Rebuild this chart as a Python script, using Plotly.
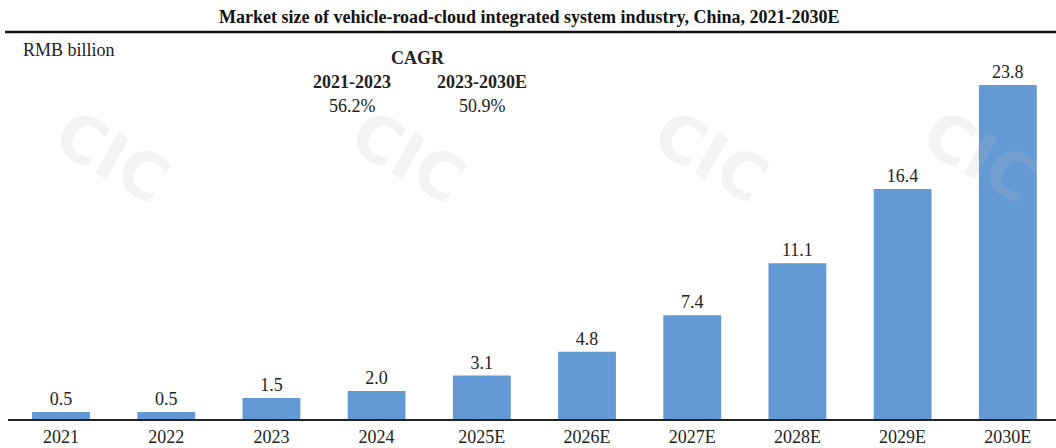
import plotly.graph_objects as go

categories = ["2021", "2022", "2023", "2024", "2025E", "2026E", "2027E", "2028E", "2029E", "2030E"]
values = [0.5, 0.5, 1.5, 2.0, 3.1, 4.8, 7.4, 11.1, 16.4, 23.8]
value_labels = ["0.5", "0.5", "1.5", "2.0", "3.1", "4.8", "7.4", "11.1", "16.4", "23.8"]
cagr_periods = ["2021-2023", "2023-2030E"]
cagr_values = ["56.2%", "50.9%"]

title_text = "Market size of vehicle-road-cloud integrated system industry, China, 2021-2030E"
unit_text = "RMB billion"

W, H = 1056, 448
ml, mr, mt, mb = 8, 0, 40, 29
pw = W - ml - mr
ph = H - mt - mb

def px_to_paper_x(px):
    return (px - ml) / pw

def px_to_paper_y(py):
    return (H - mb - py) / ph

serif = "Liberation Serif, Times New Roman, serif"
bar_color = "#6399d5"
fs = 18

fig = go.Figure()
fig.add_trace(go.Bar(
    x=list(range(len(categories))),
    y=values,
    text=value_labels,
    textposition="outside",
    cliponaxis=False,
    textfont=dict(family=serif, size=fs, color="#222222"),
    marker=dict(color=bar_color, line=dict(width=0)),
    width=0.55,
    hoverinfo="skip",
))

annotations = []
annotations.append(dict(text="<b>" + title_text + "</b>", x=px_to_paper_x(529), y=px_to_paper_y(17),
                        xref="paper", yref="paper", showarrow=False,
                        font=dict(family=serif, size=fs, color="#111111"),
                        xanchor="center", yanchor="middle"))
annotations.append(dict(text=unit_text, x=px_to_paper_x(21), y=px_to_paper_y(50),
                        xref="paper", yref="paper", showarrow=False,
                        font=dict(family=serif, size=fs, color="#222222"),
                        xanchor="left", yanchor="middle"))
annotations.append(dict(text="<b>CAGR</b>", x=px_to_paper_x(418), y=px_to_paper_y(58),
                        xref="paper", yref="paper", showarrow=False,
                        font=dict(family=serif, size=fs, color="#222222"),
                        xanchor="center", yanchor="middle"))
cagr_x = [352, 482]
for cx, period, val in zip(cagr_x, cagr_periods, cagr_values):
    annotations.append(dict(text="<b>" + period + "</b>", x=px_to_paper_x(cx), y=px_to_paper_y(82),
                            xref="paper", yref="paper", showarrow=False,
                            font=dict(family=serif, size=fs, color="#222222"),
                            xanchor="center", yanchor="middle"))
    annotations.append(dict(text=val, x=px_to_paper_x(cx), y=px_to_paper_y(106),
                            xref="paper", yref="paper", showarrow=False,
                            font=dict(family=serif, size=fs, color="#222222"),
                            xanchor="center", yanchor="middle"))

# faint watermarks
wm_pos = [(112, 157), (408, 157), (711, 157), (980, 157)]
for wx, wy in wm_pos:
    annotations.append(dict(text="<b>CIC</b>", x=px_to_paper_x(wx), y=px_to_paper_y(wy),
                            xref="paper", yref="paper", showarrow=False, textangle=30,
                            font=dict(family="DejaVu Sans, sans-serif", size=64, color="rgba(190,190,190,0.18)"),
                            xanchor="center", yanchor="middle"))

shapes = [dict(type="line", xref="paper", yref="paper",
               x0=px_to_paper_x(5), x1=px_to_paper_x(1056),
               y0=px_to_paper_y(32), y1=px_to_paper_y(32),
               line=dict(color="#111111", width=2.5))]

fig.update_layout(
    width=W, height=H,
    margin=dict(l=ml, r=mr, t=mt, b=mb, pad=0),
    paper_bgcolor="white", plot_bgcolor="white",
    showlegend=False,
    annotations=annotations,
    shapes=shapes,
    xaxis=dict(
        range=[-0.504, 9.458],
        tickmode="array",
        tickvals=list(range(len(categories))),
        ticktext=categories,
        tickfont=dict(family=serif, size=fs, color="#222222"),
        showgrid=False, zeroline=False,
        showline=True, linecolor="#222222", linewidth=2,
        ticks="", ticklen=0,
        fixedrange=True,
    ),
    yaxis=dict(
        range=[0, ph / 14.03],
        visible=False,
        showgrid=False, zeroline=False,
        fixedrange=True,
    ),
)

fig.write_html("out.html", config={"displayModeBar": False})
